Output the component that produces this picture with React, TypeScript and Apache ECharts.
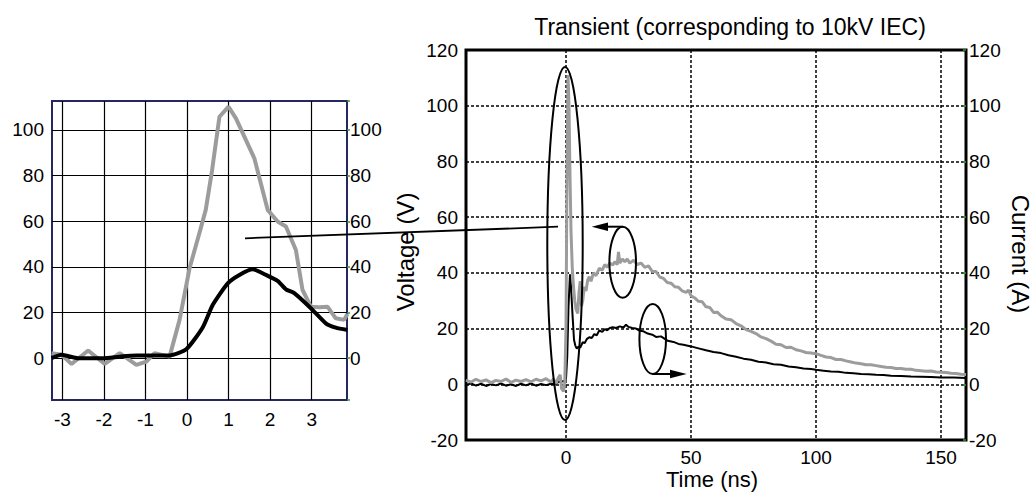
import { useEffect, useRef } from "react";
import * as echarts from "echarts";

// ---- Zoomed inset (left chart) ----
const insetTimeV = [-3.26, -3.02, -2.78, -2.38, -1.98, -1.62, -1.22, -0.98, -0.78, -0.42, -0.18, 0.06, 0.3, 0.45, 0.6, 0.78, 1.0, 1.18, 1.62, 1.94, 2.18, 2.38, 2.62, 2.78, 2.98, 3.18, 3.38, 3.58, 3.78, 3.86];
const insetVoltage = [2.2, 1.5, -2.5, 3.4, -2.5, 2.2, -2.9, -1.5, 2.2, 0.7, 16.8, 39.4, 55, 65, 82, 105.8, 110.2, 105, 87.6, 65, 59.9, 57.7, 47.4, 29.9, 22.6, 22.3, 22.6, 17.5, 16.8, 19.4];
const insetTimeI = [-3.26, -3.02, -2.62, -2.02, -1.62, -1.22, -0.82, -0.42, -0.02, 0.38, 0.62, 0.98, 1.26, 1.58, 1.9, 2.18, 2.38, 2.58, 2.98, 3.34, 3.58, 3.86];
const insetCurrent = [0, 1.5, 0, 0, 0.7, 1.2, 1.2, 1.2, 3.9, 13.6, 23.4, 32.8, 36.5, 39, 36.5, 33.9, 30.2, 28.5, 21.9, 15.3, 13.4, 12.4];

// ---- Main transient (right chart) ----
const timeV = [-40, -38, -36, -34, -32, -30, -28, -26, -24, -22, -20, -18, -16, -14, -12, -10, -8, -6, -5, -4, -3, -2.3, -1.8, -1, -0.5, 0, 0.4, 0.8, 1.2, 1.6, 2.0, 2.5, 3.0, 3.5, 4.0, 4.7, 5.2, 5.7, 6.2, 6.7, 7.3, 8, 8.7, 9.3, 10, 11, 12, 13.3, 14.5, 15.5, 16.5, 17.5, 18.7, 19.5, 20.5, 21, 21.5, 22.5, 23.5, 24.5, 25.5, 27, 28.5, 30, 31.5, 33, 34.5, 36, 37.5, 39, 40.5, 42, 43.5, 45, 46.5, 48, 49, 50, 51.5, 53, 54.5, 56, 57.5, 59, 60.5, 62, 64, 66, 68, 70, 72, 74, 76, 78, 80, 82, 84, 86, 88, 90, 92, 94, 96, 98, 100, 102, 104, 106, 108, 110, 112, 114, 116, 118, 120, 122, 124, 126, 128, 130, 132, 134, 136, 138, 140, 142, 144, 146, 148, 150, 152, 154, 156, 158, 160];
const voltage = [1.5, 0.8, 1.8, 1.0, 1.6, 0.6, 1.4, 1.0, 1.9, 0.7, 1.5, 1.0, 1.7, 0.9, 1.8, 1.2, 2.0, 0.8, 1.9, 0.2, 2.5, 3.4, -1.5, -2.6, 0.5, 20, 75, 111, 100, 75, 55, 42, 35, 30, 27, 25.4, 33, 37, 28, 30, 35, 33.5, 37.5, 38.6, 37, 40, 39, 41.6, 41, 43, 42, 43.5, 42.8, 44, 43, 47.5, 43.5, 45, 44, 45, 43.5, 44.5, 43, 43.5, 42, 42.5, 40.5, 40.5, 38.5, 38, 36.5, 36.3, 35, 34.8, 33.5, 33, 33.8, 31.8, 31, 29.8, 29.6, 27.8, 27.6, 25.8, 25.9, 24.6, 23.4, 23.2, 21.8, 21.0, 19.6, 19.0, 18.2, 17.0, 16.4, 15.5, 14.4, 14.2, 13.2, 13.3, 12.4, 12.0, 11.4, 11.2, 11.0, 10.4, 9.8, 9.6, 8.9, 8.9, 8.4, 8.0, 7.6, 7.4, 7.0, 7.0, 6.7, 6.4, 6.1, 6.0, 5.7, 5.7, 5.4, 5.4, 5.0, 4.9, 4.7, 4.8, 4.4, 4.3, 4.2, 4.0, 3.9, 3.6, 3.5];
const timeI = [-40, -38, -36, -34, -32, -30, -28, -26, -24, -22, -20, -18, -16, -14, -12, -10, -8, -6, -4, -3, -2, -1, -0.5, 0, 0.5, 1.0, 1.6, 2.0, 2.6, 3.2, 3.7, 4.3, 5.0, 5.7, 6.7, 7.5, 8.3, 9.3, 10.3, 11.3, 12.3, 13.3, 14.5, 15.5, 16.5, 17.5, 18.7, 20, 21.5, 23, 24, 25, 26.5, 28, 29.5, 31, 32.7, 34.5, 36, 38, 40.7, 43, 45, 47, 50, 53, 56, 59, 62, 65, 68, 71, 74, 77, 80, 83, 86, 89, 92, 95, 98, 100, 103, 106, 109, 112, 115, 118, 121, 124, 127, 130, 134, 138, 142, 146, 150, 155, 160];
const current = [-0.2, 0.3, -0.5, 0.2, -0.6, 0.1, -0.4, 0.3, -0.5, 0.0, -0.6, 0.2, -0.4, 0.3, -0.5, 0.1, -0.3, 0.2, 0.0, 1.0, 0.8, 1.2, 0.9, 2.0, 10, 28, 39.5, 35, 25, 16, 14, 12.8, 13.5, 13.2, 15.1, 14.8, 16.2, 16.9, 16.6, 18.0, 17.6, 19.3, 18.8, 19.8, 19.4, 20.2, 20.5, 20.2, 20.8, 20.4, 21.4, 20.6, 20.2, 20.0, 19.2, 19.0, 18.2, 17.8, 17.0, 17.2, 15.6, 15.2, 14.5, 14.2, 13.6, 12.9, 12.2, 11.6, 11.2, 10.4, 9.9, 9.2, 8.8, 8.1, 7.8, 7.2, 7.0, 6.4, 6.1, 5.7, 5.5, 5.2, 4.9, 4.6, 4.5, 4.1, 4.0, 3.7, 3.6, 3.4, 3.3, 3.1, 3.0, 2.8, 2.7, 2.6, 2.4, 2.4, 2.3];

const titleText = "Transient (corresponding to 10kV IEC)";
const xName = "Time (ns)";
const yLeftName = "Voltage (V)";
const yRightName = "Current (A)";

const FONT = "'Liberation Sans', Arial, sans-serif";
const GRAY = "#9c9c9c";
const NAVY = "#27275f";
const GREEN = "#2a9a3a";

const pairs = (xs: number[], ys: number[]) => xs.map((x, i) => [x, ys[i]]);
const isMult = (v: number, m: number) => Math.abs(v / m - Math.round(v / m)) < 1e-6;

export default function App() {
  const ref = useRef<HTMLDivElement>(null);
  useEffect(() => {
    if (!ref.current) return;
    const chart = echarts.init(ref.current, undefined, { renderer: "svg" });
    const tickLabel = { color: "#000", fontSize: 19, fontFamily: FONT };
    const centered = { textAlign: "center", textVerticalAlign: "middle", align: "center", verticalAlign: "middle", fill: "#000" };
    const option: any = {
      animation: false,
      backgroundColor: "#fff",
      grid: [
        { left: 52, top: 101, width: 295, height: 299, show: true, borderColor: NAVY, borderWidth: 2, backgroundColor: "transparent" },
        { left: 466, top: 50, width: 500, height: 390, show: true, borderColor: "#000", borderWidth: 3, backgroundColor: "transparent" },
      ],
      xAxis: [
        {
          gridIndex: 0, type: "value", min: -3.25, max: 3.85, minInterval: 1, maxInterval: 1,
          axisLine: { show: false }, axisTick: { show: false },
          axisLabel: { ...tickLabel, margin: 10, formatter: (v: number) => (isMult(v, 1) ? String(Math.round(v)) : "") },
          splitLine: { show: true, showMinLine: false, showMaxLine: false, lineStyle: { color: "#000", width: 1.2 } },
        },
        {
          gridIndex: 1, type: "value", min: -40, max: 160, minInterval: 50, maxInterval: 50,
          axisLine: { show: false }, axisTick: { show: false },
          axisLabel: { ...tickLabel, margin: 8, formatter: (v: number) => (isMult(v, 50) ? String(Math.round(v)) : "") },
          splitLine: { show: true, showMinLine: false, showMaxLine: false, lineStyle: { color: "#000", width: 1.5, type: [3, 2] } },
        },
      ],
      yAxis: [
        {
          gridIndex: 0, type: "value", min: -18.3, max: 112.7, minInterval: 20, maxInterval: 20,
          axisLine: { show: false }, axisTick: { show: false },
          axisLabel: { ...tickLabel, margin: 8, formatter: (v: number) => (isMult(v, 20) ? String(Math.round(v)) : "") },
          splitLine: { show: true, showMinLine: false, showMaxLine: false, lineStyle: { color: "#000", width: 1.2 } },
        },
        {
          gridIndex: 0, type: "value", position: "right", min: -18.3, max: 112.7, minInterval: 20, maxInterval: 20,
          axisLine: { show: false }, axisTick: { show: true, length: 3, lineStyle: { color: GREEN, width: 1.5 } },
          axisLabel: { ...tickLabel, margin: 3, formatter: (v: number) => (isMult(v, 20) ? String(Math.round(v)) : "") },
          splitLine: { show: false },
        },
        {
          gridIndex: 1, type: "value", min: -20, max: 120, interval: 20,
          axisLine: { show: false }, axisTick: { show: false },
          axisLabel: { ...tickLabel, margin: 8 },
          splitLine: { show: true, showMinLine: false, showMaxLine: false, lineStyle: { color: "#000", width: 1.5, type: [3, 2] } },
        },
        {
          gridIndex: 1, type: "value", position: "right", min: -20, max: 120, interval: 20,
          axisLine: { show: false }, axisTick: { show: true, inside: true, length: 3, lineStyle: { color: GREEN, width: 1.5 } },
          axisLabel: { ...tickLabel, margin: 3 },
          splitLine: { show: false },
        },
      ],
      series: [
        { type: "line", xAxisIndex: 0, yAxisIndex: 0, data: pairs(insetTimeV, insetVoltage), showSymbol: false, symbol: "none", lineStyle: { color: GRAY, width: 4 }, z: 3 },
        { type: "line", xAxisIndex: 0, yAxisIndex: 0, data: pairs(insetTimeI, insetCurrent), showSymbol: false, symbol: "none", smooth: 0.2, lineStyle: { color: "#000", width: 4 }, z: 4 },
        { type: "line", xAxisIndex: 1, yAxisIndex: 3, data: pairs(timeI, current), showSymbol: false, symbol: "none", lineStyle: { color: "#000", width: 2 }, z: 3 },
        { type: "line", xAxisIndex: 1, yAxisIndex: 2, data: pairs(timeV, voltage), showSymbol: false, symbol: "none", lineStyle: { color: GRAY, width: 3 }, z: 4 },
      ],
      graphic: [
        { type: "text", x: 730, y: 27, z: 100, style: { ...centered, text: titleText, font: `23px ${FONT}` } },
        { type: "text", x: 712, y: 479, z: 100, style: { ...centered, text: xName, font: `22px ${FONT}` } },
        { type: "text", x: 405, y: 252, rotation: Math.PI / 2, z: 100, style: { ...centered, text: yLeftName, font: `24px ${FONT}` } },
        { type: "text", x: 1020, y: 254, rotation: -Math.PI / 2, z: 100, style: { ...centered, text: yRightName, font: `24px ${FONT}` } },
        { type: "ellipse", z: 100, shape: { cx: 565, cy: 243.5, rx: 17.7, ry: 176.5 }, style: { fill: "none", stroke: "#000", lineWidth: 2 } },
        { type: "ellipse", z: 100, shape: { cx: 622.7, cy: 262.2, rx: 13.3, ry: 35.5 }, style: { fill: "none", stroke: "#000", lineWidth: 2 } },
        { type: "ellipse", z: 100, shape: { cx: 652.7, cy: 339, rx: 13.3, ry: 35 }, style: { fill: "none", stroke: "#000", lineWidth: 2 } },
        { type: "line", z: 100, shape: { x1: 622.7, y1: 226.7, x2: 604, y2: 226.7 }, style: { stroke: "#000", lineWidth: 2 } },
        { type: "polygon", z: 100, shape: { points: [[591.7, 226.7], [608, 222.5], [608, 230.9]] }, style: { fill: "#000" } },
        { type: "line", z: 100, shape: { x1: 652.7, y1: 374, x2: 674, y2: 374 }, style: { stroke: "#000", lineWidth: 2 } },
        { type: "polygon", z: 100, shape: { points: [[686.7, 374], [670, 369.8], [670, 378.2]] }, style: { fill: "#000" } },
        { type: "line", z: 100, shape: { x1: 245, y1: 238.3, x2: 558, y2: 226.7 }, style: { stroke: "#000", lineWidth: 1.8 } },
      ],
    };
    chart.setOption(option);
    return () => chart.dispose();
  }, []);
  return <div ref={ref} style={{ position: "fixed", left: 0, top: 0, width: 1035, height: 494, background: "#fff" }} />;
}
